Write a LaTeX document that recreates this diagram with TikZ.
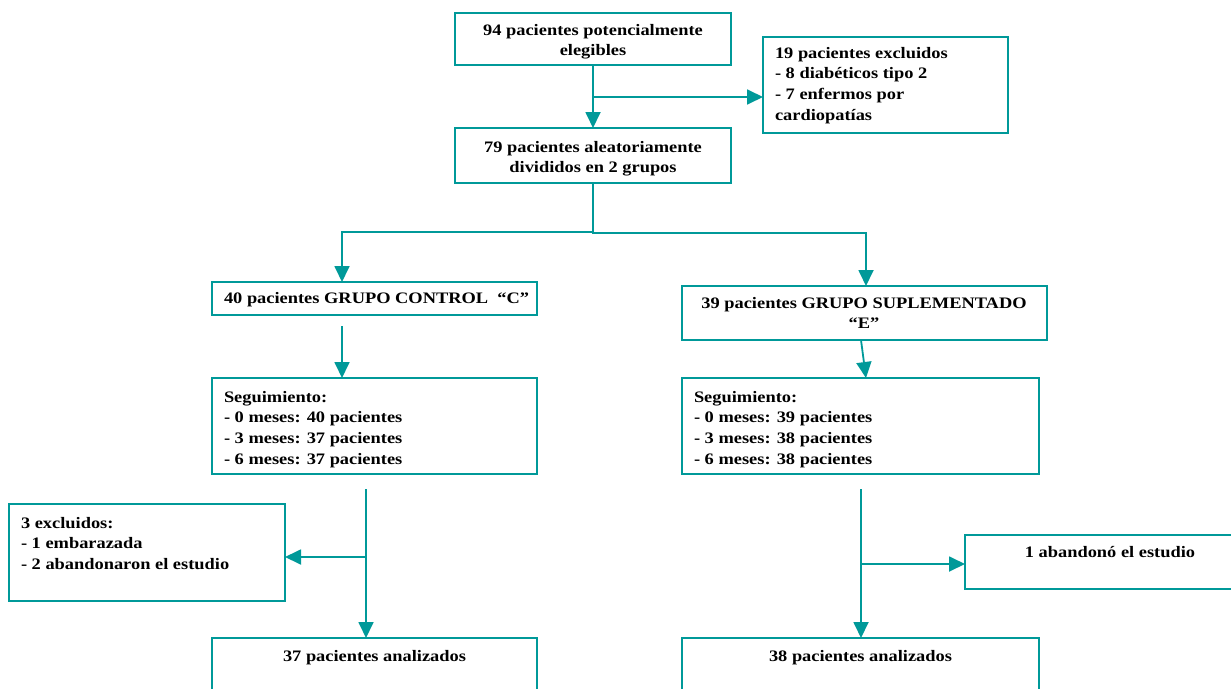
\documentclass[tikz,border=0pt]{standalone}
\usepackage{fontspec}
\setmainfont{Liberation Serif}[FakeStretch=1.15]
\usetikzlibrary{arrows.meta}
\definecolor{tealc}{RGB}{0,153,153}
\tikzset{
  box/.style={draw=tealc, line width=2.2pt, rectangle, inner sep=0pt, outer sep=0pt, anchor=north west},
  txt/.style={inner sep=0pt, outer sep=0pt, font=\bfseries\fontsize{16}{20.8}\selectfont, text=black},
  conn/.style={draw=tealc, line width=1.8pt},
  arr/.style={conn, -{Triangle[length=16pt,width=15pt]}}
}
\begin{document}
\begin{tikzpicture}[x=1pt,y=-1pt]
\clip (0,0) rectangle (1231,688);
\fill[white] (0,0) rectangle (1231,688);
% boxes
\node[box, minimum width=276pt, minimum height=52pt] (b1) at (455,13) {};
\node[box, minimum width=245pt, minimum height=96pt] (b2) at (763,37) {};
\node[box, minimum width=276pt, minimum height=55pt] (b3) at (455,128) {};
\node[box, minimum width=325pt, minimum height=33pt] (cbox) at (212,282) {};
\node[box, minimum width=365pt, minimum height=54pt] (ebox) at (682,286) {};
\node[box, minimum width=325pt, minimum height=96pt] (segc) at (212,378) {};
\node[box, minimum width=357pt, minimum height=96pt] (sege) at (682,378) {};
\node[box, minimum width=276pt, minimum height=97pt] (excl) at (9,504) {};
\node[box, minimum width=290pt, minimum height=54pt] (aband) at (965,535) {};
\node[box, minimum width=325pt, minimum height=70pt] (anac) at (212,638) {};
\node[box, minimum width=357pt, minimum height=70pt] (anae) at (682,638) {};
% texts
\node[txt, anchor=north, align=center] (t1) at (593,24) {94 pacientes potencialmente\\elegibles};
\node[txt, anchor=north west, align=left] (t2) at (775,47) {19 pacientes excluidos\\- 8 diabéticos tipo 2\\- 7 enfermos por\\cardiopatías};
\node[txt, anchor=north, align=center] (t3) at (593,141) {79 pacientes aleatoriamente\\divididos en 2 grupos};
\node[txt, anchor=north west, align=left] (tc) at (224,292) {40 pacientes GRUPO CONTROL\ \ “C”};
\node[txt, anchor=north, align=center] (te) at (864,297) {39 pacientes GRUPO SUPLEMENTADO\\“E”};
\node[txt, anchor=north west, align=left] (tsc) at (224,391) {Seguimiento:\\- 0 meses: 40 pacientes\\- 3 meses: 37 pacientes\\- 6 meses: 37 pacientes};
\node[txt, anchor=north west, align=left] (tse) at (694,391) {Seguimiento:\\- 0 meses: 39 pacientes\\- 3 meses: 38 pacientes\\- 6 meses: 38 pacientes};
\node[txt, anchor=north west, align=left] (tx) at (21,517) {3 excluidos:\\- 1 embarazada\\- 2 abandonaron el estudio};
\node[txt, anchor=north] (ta) at (1110,546) {1 abandonó el estudio};
\node[txt, anchor=north] (tac) at (374.5,650) {37 pacientes analizados};
\node[txt, anchor=north] (tae) at (860.5,650) {38 pacientes analizados};
% connectors
\draw[arr] (b1.south) -- (b3.north);
\coordinate (j1) at (593,97);
\draw[arr] (j1) -- (j1 -| b2.west);
\coordinate (cl) at (342,232);
\coordinate (cr) at (866,233);
\draw[arr] (b3.south) |- (cl) -- (cl |- cbox.north);
\draw[arr] (b3.south) |- (cr) -- (cr |- ebox.north);
\coordinate (c1) at (342,326);
\draw[arr] (c1) -- (c1 |- segc.north);
\coordinate (e1) at (861,340);
\coordinate (e2) at (866,378);
\draw[arr] (e1) -- (e2);
\coordinate (l1) at (366,489);
\draw[arr] (l1) -- (l1 |- anac.north);
\coordinate (l2) at (366,557);
\draw[arr] (l2) -- (l2 -| excl.east);
\coordinate (r1) at (861,489);
\draw[arr] (r1) -- (r1 |- anae.north);
\coordinate (r2) at (861,564);
\draw[arr] (r2) -- (r2 -| aband.west);
\end{tikzpicture}
\end{document}
